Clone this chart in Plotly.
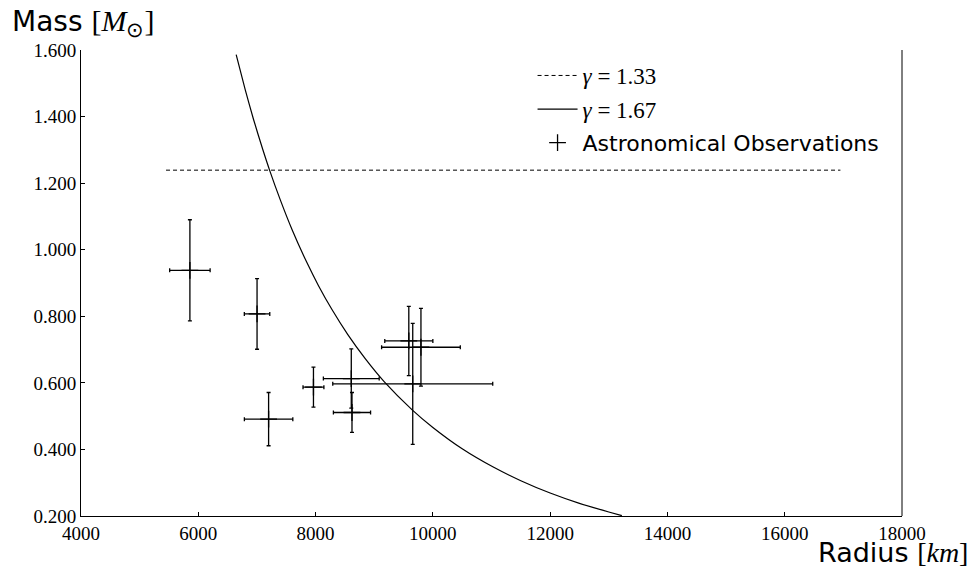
import plotly.graph_objects as go

# Observations: radius [km], mass [Msun], errors
obs_radius = [5857, 7002, 7199, 7964, 8609, 8621, 9590, 9797, 9657]
obs_radius_err = [345, 217, 413, 178, 476, 317, 410, 671, 1364]
obs_mass = [0.938, 0.807, 0.491, 0.587, 0.613, 0.511, 0.726, 0.707, 0.597]
obs_mass_err = [0.152, 0.106, 0.080, 0.060, 0.089, 0.060, 0.104, 0.117, 0.182]

# gamma = 1.33 (constant mass line)
g133_radius = [5450, 16950]
g133_mass = [1.239, 1.239]

# gamma = 1.67 curve
g167_radius = [6646, 6800, 6941, 7100, 7214, 7400, 7600, 7850, 8050, 8277, 8550,
               8850, 9173, 9647, 10000, 10500, 11030, 11500, 12000, 12500, 13000, 13223]
g167_mass = [1.586, 1.481, 1.392, 1.301, 1.240, 1.149, 1.060, 0.962, 0.892, 0.821, 0.745,
             0.672, 0.603, 0.519, 0.466, 0.402, 0.347, 0.306, 0.269, 0.238, 0.212, 0.201]

x_ticks = [4000, 6000, 8000, 10000, 12000, 14000, 16000, 18000]
y_ticks = [0.2, 0.4, 0.6, 0.8, 1.0, 1.2, 1.4, 1.6]

SERIF = "Liberation Serif"
SANS = "DejaVu Sans"

fig = go.Figure()
fig.add_trace(go.Scatter(
    x=g133_radius, y=g133_mass, mode="lines",
    line=dict(color="black", width=1, dash="4px,3px"),
    legendgroup="a",
    name="<span style='font-family:Liberation Serif;font-size:23px'><i>γ</i> = 1.33</span>",
))
fig.add_trace(go.Scatter(
    x=g167_radius, y=g167_mass, mode="lines",
    line=dict(color="black", width=1.2, shape="spline", smoothing=0.6),
    legendgroup="b",
    name="<span style='font-family:Liberation Serif;font-size:23px'><i>γ</i> = 1.67</span>",
))
fig.add_trace(go.Scatter(
    x=obs_radius, y=obs_mass, mode="markers",
    marker=dict(size=12, color="black", symbol="cross-thin-open",
                line=dict(color="black", width=1.3)),
    error_x=dict(type="data", array=obs_radius_err, color="black", thickness=1.3, width=2),
    error_y=dict(type="data", array=obs_mass_err, color="black", thickness=1.3, width=2),
    legendgroup="c",
    name="Astronomical Observations",
))

fig.update_layout(
    width=979, height=571,
    margin=dict(l=81, r=77, t=50, b=55),
    plot_bgcolor="white", paper_bgcolor="white",
    showlegend=True,
    legend=dict(
        x=0.55, y=0.99, xanchor="left", yanchor="top",
        bgcolor="rgba(0,0,0,0)",
        font=dict(family=SANS, size=22, color="black"),
        itemwidth=40, tracegroupgap=2, traceorder="grouped",
    ),
    xaxis=dict(
        range=[4000, 18000], tickvals=x_ticks, ticktext=[str(v) for v in x_ticks],
        showgrid=False, zeroline=False, showline=True, linecolor="black", linewidth=1,
        ticks="inside", ticklen=4, tickcolor="black",
        tickfont=dict(family=SERIF, size=19, color="black"),
    ),
    yaxis=dict(
        range=[0.2, 1.6], tickvals=y_ticks, ticktext=[f"{v:.3f}" for v in y_ticks],
        showgrid=False, zeroline=False, showline=True, linecolor="black", linewidth=1,
        ticks="inside", ticklen=4, tickcolor="black",
        tickfont=dict(family=SERIF, size=19, color="black"),
    ),
    shapes=[dict(type="line", xref="paper", yref="paper", x0=1, x1=1, y0=0, y1=1,
                 line=dict(color="black", width=1))],
    annotations=[
        dict(xref="paper", yref="paper", x=-0.086, y=1.0, yshift=6, xanchor="left", yanchor="bottom",
             showarrow=False, font=dict(family=SANS, size=28, color="black"),
             text="Mass <span style='font-family:Liberation Serif;font-size:30px'>[<i>M</i><sub>⊙</sub>]</span>"),
        dict(xref="paper", yref="paper", x=1.0, y=0.0, yshift=-19, xshift=68, xanchor="right", yanchor="top",
             showarrow=False, font=dict(family=SANS, size=27, color="black"),
             text="Radius <span style='font-family:Liberation Serif;font-size:28px'>[<i>km</i>]</span>"),
    ],
)

fig.write_html("out.html")
